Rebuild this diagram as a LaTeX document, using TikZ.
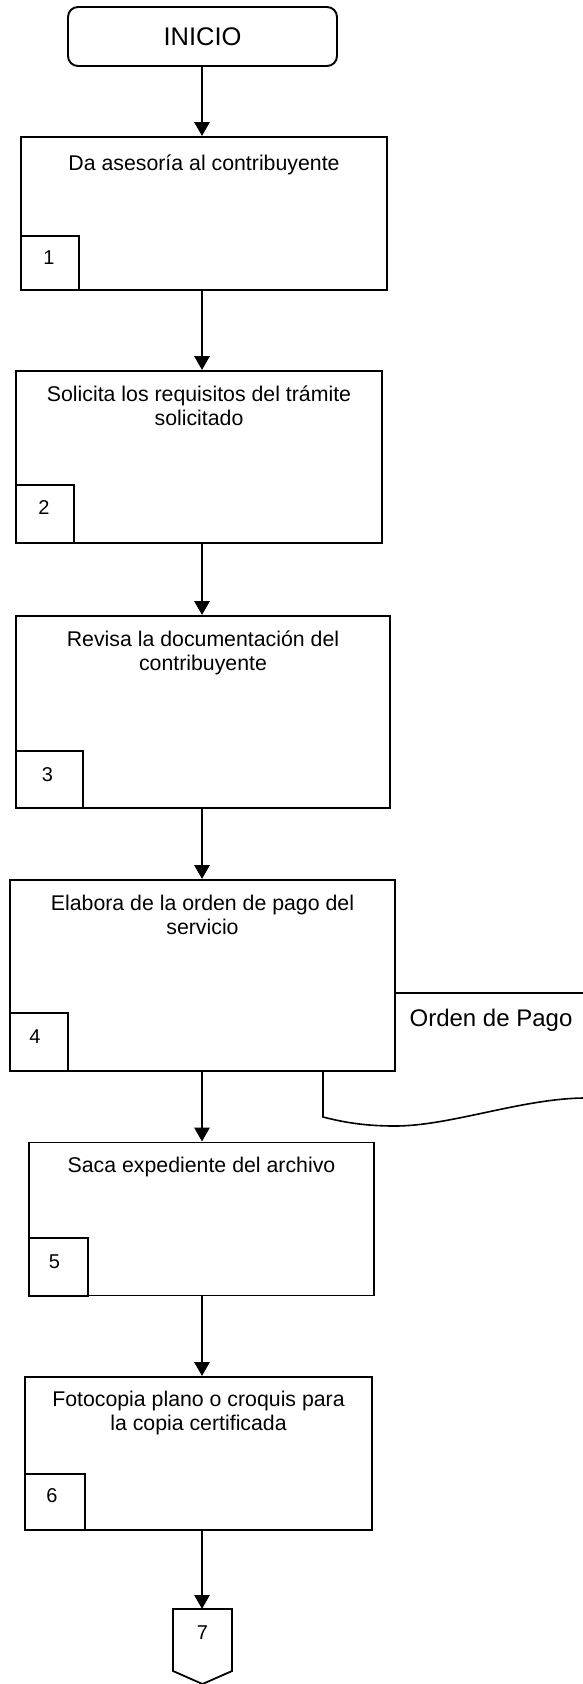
\documentclass[tikz,border=0pt]{standalone}
\usepackage{fontspec}
\setmainfont{Liberation Sans}
\usetikzlibrary{arrows.meta}
\newcommand\mystrut{\rule{0pt}{18.2pt}}
\begin{document}
\begin{tikzpicture}[x=1pt,y=-1pt,
  box/.style={draw, line width=1.9pt, fill=white, rectangle, inner sep=0pt},
  startbox/.style={draw, line width=1.9pt, fill=white, rectangle, rounded corners=10pt, inner sep=0pt, font=\fontsize{25.5}{30}\selectfont},
  numbox/.style={draw, line width=1.8pt, fill=white, rectangle, inner sep=0pt},
  digit/.style={inner sep=0pt, font=\fontsize{20}{24}\selectfont},
  txt/.style={align=center, inner sep=0pt, anchor=north, font=\fontsize{21.3}{24}\selectfont},
  arr/.style={line width=2.8pt, -{Triangle[length=14pt,width=15pt]}},
  docline/.style={line width=1.6pt}]
\useasboundingbox (0,0) rectangle (583,1684);
\clip (0,0) rectangle (583,1684);
\coordinate (ax) at (202,0);

% document shape (behind box 4)
\draw[docline] (583,993) -- (323,993) -- (323,1117)
  .. controls (350,1124) and (372,1126) .. (395,1126)
  .. controls (450,1126) and (520,1099) .. (583,1098);
\node[anchor=base, inner sep=0pt, font=\fontsize{24}{28}\selectfont] (op) at (491,1026) {Orden de Pago};

% start
\node[startbox, minimum width=269pt, minimum height=59pt] (ini) at (202.5,36.5) {INICIO};

% boxes
\node[box, minimum width=366pt, minimum height=153pt] (b1) at (204,213.5) {};
\node[box, minimum width=366pt, minimum height=172pt] (b2) at (199,457) {};
\node[box, minimum width=374pt, minimum height=192pt] (b3) at (203,712) {};
\node[box, minimum width=385pt, minimum height=191pt] (b4) at (202.5,975.5) {};
\node[box, minimum width=345pt, minimum height=153pt] (b5) at (201.5,1219) {};
\node[box, minimum width=347pt, minimum height=153pt] (b6) at (198.5,1453.5) {};

% texts
\node[txt] (t1) at (204,152) {\mystrut Da asesoría al contribuyente};
\node[txt] (t2) at (199,383) {\mystrut Solicita los requisitos del trámite\\solicitado};
\node[txt] (t3) at (203,628) {\mystrut Revisa la documentación del\\contribuyente};
\node[txt] (t4) at (202.5,892) {\mystrut Elabora de la orden de pago del\\servicio};
\node[txt] (t5) at (201.5,1154) {\mystrut Saca expediente del archivo};
\node[txt] (t6) at (198.5,1388) {\mystrut Fotocopia plano o croquis para\\la copia certificada};

% number boxes
\node[numbox, minimum width=58pt, minimum height=54pt] (n1) at (50,263) {};
\node[numbox, minimum width=58pt, minimum height=58pt] (n2) at (45,514) {};
\node[numbox, minimum width=67pt, minimum height=57pt] (n3) at (49.5,779.5) {};
\node[numbox, minimum width=58pt, minimum height=58pt] (n4) at (39,1042) {};
\node[numbox, minimum width=59pt, minimum height=58pt] (n5) at (58.5,1267) {};
\node[numbox, minimum width=60pt, minimum height=56pt] (n6) at (55,1502) {};
\node[digit] (d1) at ([shift={(-1,-5)}]n1.center) {1};
\node[digit] (d2) at ([shift={(-1,-6)}]n2.center) {2};
\node[digit] (d3) at ([shift={(-2,-5)}]n3.center) {3};
\node[digit] (d4) at ([shift={(-4,-5)}]n4.center) {4};
\node[digit] (d5) at ([shift={(-4,-5)}]n5.center) {5};
\node[digit] (d6) at ([shift={(-3,-6)}]n6.center) {6};

% off-page connector
\draw[line width=1.8pt, fill=white] (173,1609) -- (232,1609) -- (232,1671) -- (202.5,1684) -- (173,1671) -- cycle;
\coordinate (c7) at (202,1609);
\node[digit] (n7) at (202.5,1633) {7};

% arrows
\draw[arr] (ini.south -| ax) -- (b1.north -| ax);
\draw[arr] (b1.south -| ax) -- (b2.north -| ax);
\draw[arr] (b2.south -| ax) -- (b3.north -| ax);
\draw[arr] (b3.south -| ax) -- (b4.north -| ax);
\draw[arr] (b4.south -| ax) -- (b5.north -| ax);
\draw[arr] (b5.south -| ax) -- (b6.north -| ax);
\draw[arr] (b6.south -| ax) -- (c7);
\end{tikzpicture}
\end{document}
